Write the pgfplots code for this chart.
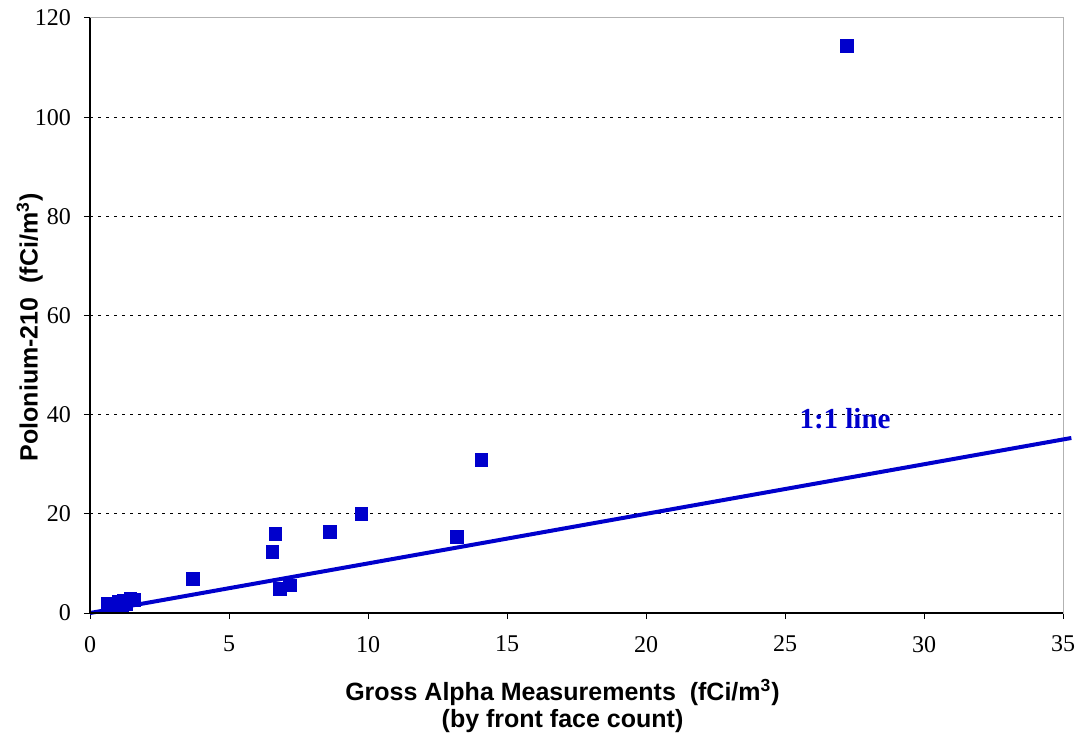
\documentclass[border=0pt]{standalone}
\usepackage{pgfplots}
\pgfplotsset{compat=1.18}
\usepackage{fontspec}
\setmainfont{Liberation Serif}
\newfontfamily\labfont{Liberation Sans}
\definecolor{pblue}{RGB}{0,0,204}
\begin{document}
\begin{tikzpicture}
\begin{axis}[
  scale only axis,
  width=486.5pt, height=297.5pt,
  xmin=0, xmax=35, ymin=0, ymax=120,
  xtick={0,5,...,35}, ytick={0,20,...,120},
  tick align=outside,
  major tick length=3pt,
  tick style={black, line width=0.5pt},
  xtick pos=bottom, ytick pos=left,
  axis line style={draw=gray!60, line width=0.5pt},
  ymajorgrids,
  major grid style={black, line width=0.5pt, dash pattern=on 1.5pt off 2.5pt},
  ticklabel style={font=\fontsize{12}{14}\selectfont},
  /pgf/number format/assume math mode=true,
  xticklabel style={yshift=-5pt},
  yticklabel style={xshift=-3pt},
  clip=false,
  xlabel={Gross Alpha Measurements\ \ (fCi/m\textsuperscript{3})\\(by front face count)},
  ylabel={Polonium-210\ \ (fCi/m\textsuperscript{3})},
  xlabel style={font=\labfont\bfseries\fontsize{12.5}{13.5}\selectfont, align=center, at={(axis description cs:0.5,0)}, anchor=north, yshift=-29.5pt, xshift=-7pt},
  ylabel style={font=\labfont\bfseries\fontsize{12.5}{14}\selectfont, at={(axis description cs:-0.062,0.48)}, anchor=center},
]
\addplot[pblue, line width=2pt, forget plot] coordinates {(0,0) (35.3,35.3)};
\addplot[only marks, mark=square*, mark size=3.2pt, color=pblue, mark options={fill=pblue, draw=pblue}] coordinates {
(0.65,1.8) (0.9,1.7) (1.05,2.3) (1.2,2.5) (1.15,1.7) (1.45,2.8) (1.6,2.6) (1.3,1.9)
(3.69,6.86) (6.67,16.0) (6.56,12.4) (8.64,16.3) (9.76,20.0) (6.82,4.84) (7.20,5.58)
(13.21,15.3) (14.08,30.8) (27.23,114.4)
};
\node[text=pblue, font=\bfseries\fontsize{14.5}{16}\selectfont] at (axis cs:27.16,39.1) {1:1 line};
\draw[black, line width=0.6pt] (rel axis cs:0,1) -- (rel axis cs:0,0) -- (rel axis cs:1,0);
\end{axis}
\pgfresetboundingbox
\path (-45pt,-60.5pt) rectangle (494.5pt,306.5pt);
\end{tikzpicture}
\end{document}
